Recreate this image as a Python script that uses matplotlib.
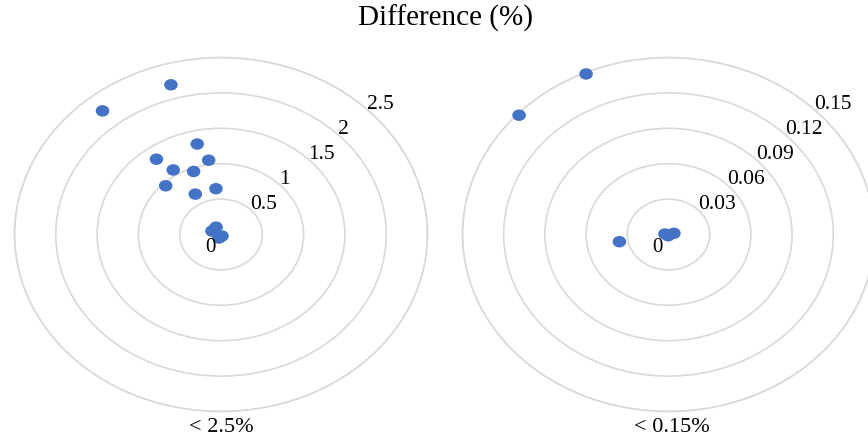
import numpy as np
import matplotlib
matplotlib.use("Agg")
import matplotlib.pyplot as plt
from matplotlib.path import Path

# ---------------- data ----------------
title = "Difference (%)"
left_label = "< 2.5%"
right_label = "< 0.15%"

left_ticks = [0, 0.5, 1, 1.5, 2, 2.5]
left_tick_labels = ["0", "0.5", "1", "1.5", "2", "2.5"]
right_ticks = [0, 0.03, 0.06, 0.09, 0.12, 0.15]
right_tick_labels = ["0", "0.03", "0.06", "0.09", "0.12", "0.15"]

left_angle_deg = [106.0, 129.4, 102.7, 126.3, 98.1, 122.4, 110.4, 134.2,
                  118.6, 95.4, 119.7, 155.6, -60.0, -116.0]
left_r = [2.20, 2.26, 1.31, 1.32, 1.06, 1.08, 0.95, 0.96,
          0.65, 0.65, 0.12, 0.12, 0.025, 0.055]

right_angle_deg = [113.8, 137.1, 189.7, 170.6, 14.3, -100.0]
right_r = [0.1487, 0.1485, 0.0363, 0.0026, 0.0041, 0.0011]

# ---------------- style ----------------
plt.rcParams["font.family"] = ["Liberation Serif", "DejaVu Serif"]
DOT = "#4472C4"
RING = "#d9d9d9"

circ = Path.unit_circle()
ellipse_marker = Path(circ.vertices * np.array([1.18, 1.0]), circ.codes)

fig = plt.figure(figsize=(8.68, 4.38), dpi=100)
fig.patch.set_facecolor("white")


def panel(rect, angles, radii, ticks, labels):
    ax = fig.add_axes(rect, projection="polar")
    ax.set_aspect("auto")
    ax.set_ylim(0, ticks[-1])
    ax.set_yticks(ticks[1:])
    ax.set_yticklabels([])
    ax.set_xticks([])
    ax.xaxis.grid(False)
    ax.yaxis.grid(True, color=RING, linewidth=1.2)
    ax.spines["polar"].set_color(RING)
    ax.spines["polar"].set_linewidth(1.2)
    ax.patch.set_alpha(0)
    ax.scatter(np.deg2rad(angles), radii, s=95, marker=ellipse_marker,
               color=DOT, edgecolors="none", zorder=3, clip_on=False)
    for t, lab in zip(ticks, labels):
        if t == 0:
            ax.annotate(lab, xy=(0, 0), xytext=(-4, -2.5),
                        textcoords="offset points", ha="right", va="top",
                        fontsize=15, color="black")
        else:
            ax.text(np.deg2rad(45), t, lab, ha="left", va="baseline",
                    fontsize=15.5, color="black")
    return ax


panel([0.0167, 0.0605, 0.4758, 0.8082], left_angle_deg, left_r,
      left_ticks, left_tick_labels)
panel([0.5328, 0.0605, 0.4747, 0.8082], right_angle_deg, right_r,
      right_ticks, right_tick_labels)

fig.text(0.5127, 0.957, title, ha="center", va="center", fontsize=21)
fig.text(0.2546, 0.025, left_label, ha="center", va="center", fontsize=16)
fig.text(0.774, 0.025, right_label, ha="center", va="center", fontsize=16)

fig.savefig("out.png", dpi=100, facecolor="white")
